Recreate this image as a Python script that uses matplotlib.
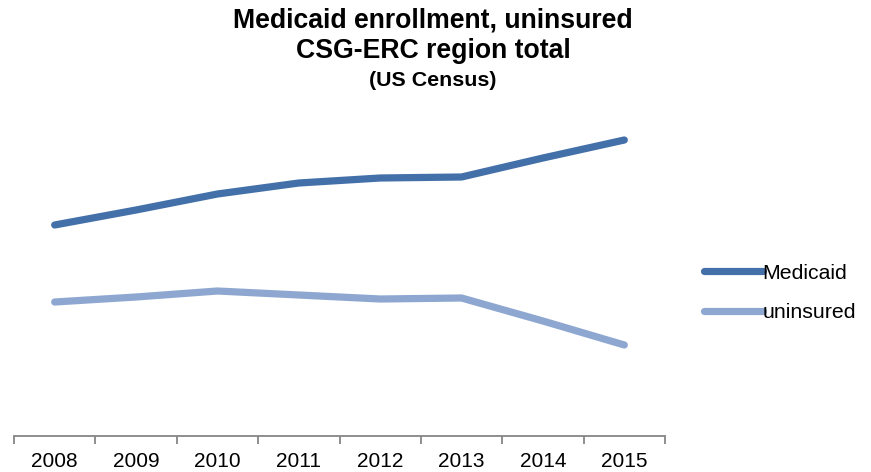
import matplotlib
matplotlib.use("Agg")
import matplotlib.pyplot as plt
import numpy as np

plt.rcParams['font.family'] = ['Liberation Sans', 'DejaVu Sans']

# values (relative units, no y axis shown)
years = ['2008', '2009', '2010', '2011', '2012', '2013', '2014', '2015']
medicaid = [211, 226, 242, 253, 258, 259, 278, 296]
uninsured = [134, 139, 145, 141, 137, 138, 115, 91]

c_med = '#4470a9'
c_uni = '#8ea7d0'

fig = plt.figure(figsize=(8.71, 4.72), dpi=100)
ax = fig.add_axes([14/871, 36/472, 651/871, 340/472])

x = np.arange(len(years))
ax.plot(x, medicaid, color=c_med, lw=5.2, solid_capstyle='round', label='Medicaid')
ax.plot(x, uninsured, color=c_uni, lw=5.2, solid_capstyle='round', label='uninsured')

ax.set_xlim(-0.5, len(years) - 0.5)
ax.set_ylim(0, 340)
ax.set_yticks([])
for s in ['top', 'right', 'left']:
    ax.spines[s].set_visible(False)
ax.spines['bottom'].set_color('#868686')
ax.spines['bottom'].set_linewidth(1.3)

ax.set_xticks(x)
ax.set_xticklabels(years, fontsize=15)
ax.tick_params(axis='x', which='major', length=0, pad=11.5)
ax.set_xticks(np.arange(len(years) + 1) - 0.5, minor=True)
ax.tick_params(axis='x', which='minor', length=6, width=1.3, color='#868686')

fig.text(0.497, 1 - 21/472, 'Medicaid enrollment, uninsured', ha='center', va='center',
         fontsize=19.2, fontweight='bold')
fig.text(0.497, 1 - 51/472, 'CSG-ERC region total', ha='center', va='center',
         fontsize=19.2, fontweight='bold')
fig.text(0.497, 1 - 80/472, '(US Census)', ha='center', va='center',
         fontsize=15.4, fontweight='bold')

leg = fig.legend(loc='center left', bbox_to_anchor=(695/871, 1 - 293/472), frameon=False,
                 fontsize=15.3, handlelength=2.78, handletextpad=0.0, labelspacing=0.95,
                 borderaxespad=0)

fig.savefig('out.png', dpi=100)
